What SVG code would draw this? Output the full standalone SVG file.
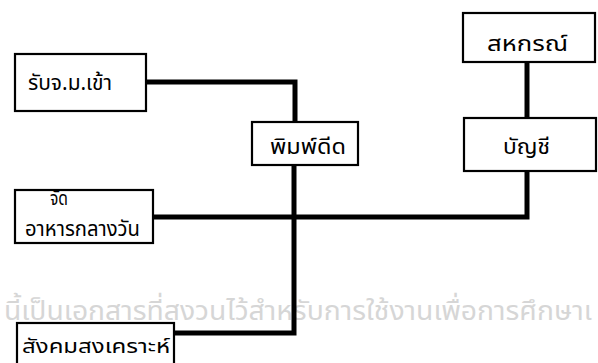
<svg xmlns="http://www.w3.org/2000/svg" width="598" height="363" viewBox="0 0 598 363">
<style>
.box{fill:#fff;stroke:#000;stroke-width:2.2;stroke-linejoin:miter}
.lbl{font-family:"Noto Sans Thai","Noto Sans","DejaVu Sans",sans-serif;font-size:22px;fill:#000}
.sm{font-size:20px}
.wm{font-family:"Noto Sans Thai","Noto Sans","DejaVu Sans",sans-serif;font-size:27px;fill:#d6d6d6}
.conn{fill:none;stroke:#000;stroke-width:5;stroke-linejoin:miter;stroke-linecap:butt}
</style>
<rect width="598" height="363" fill="#fff"/>
<text class="wm" x="4" y="320" textLength="588" lengthAdjust="spacingAndGlyphs">นี้เป็นเอกสารที่สงวนไว้สำหรับการใช้งานเพื่อการศึกษาเ</text>
<g id="connectors">
<path class="conn" d="M146,82 H295 V122"/>
<path class="conn" d="M294,165 V333 H174"/>
<path class="conn" d="M153,217 H527 V171"/>
<path class="conn" d="M527,118 V62"/>
</g>
<g id="n_receive">
<rect class="box" x="15" y="54" width="131" height="57"/>
<text class="lbl" x="28" y="90" textLength="84" lengthAdjust="spacingAndGlyphs">รับจ.ม.เข้า</text>
</g>
<g id="n_typing">
<rect class="box" x="252" y="122" width="106" height="43"/>
<text class="lbl" x="270" y="154" textLength="76" lengthAdjust="spacingAndGlyphs">พิมพ์ดีด</text>
</g>
<g id="n_coop">
<rect class="box" x="463" y="13" width="132" height="49"/>
<text class="lbl" x="487" y="51" textLength="81" lengthAdjust="spacingAndGlyphs">สหกรณ์</text>
</g>
<g id="n_account">
<rect class="box" x="464" y="118" width="132" height="53"/>
<text class="lbl" x="503" y="154" textLength="47" lengthAdjust="spacingAndGlyphs">บัญชี</text>
</g>
<g id="n_lunch">
<rect class="box" x="15" y="190" width="138" height="53"/>
<text class="lbl sm" x="50" y="205" textLength="18" lengthAdjust="spacingAndGlyphs">จัด</text>
<text class="lbl" x="25" y="236" textLength="115" lengthAdjust="spacingAndGlyphs">อาหารกลางวัน</text>
</g>
<g id="n_welfare">
<rect class="box" x="17" y="323" width="157" height="45"/>
<text class="lbl sm" x="22" y="353" textLength="148" lengthAdjust="spacingAndGlyphs">สังคมสงเคราะห์</text>
</g>
</svg>
